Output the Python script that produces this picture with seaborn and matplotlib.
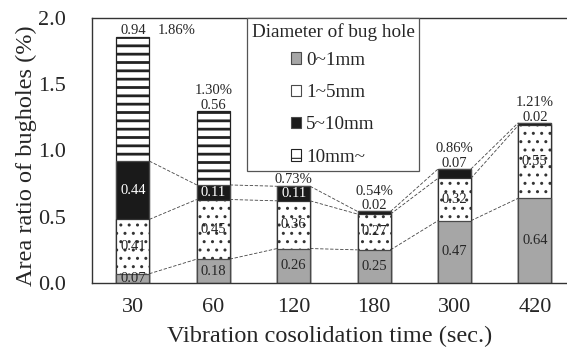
import matplotlib
matplotlib.use("Agg")
import matplotlib.pyplot as plt
import seaborn as sns
import pandas as pd
from matplotlib.patches import Patch

# 讀值 (area ratio %, per hole diameter)
times = ["30", "60", "120", "180", "300", "420"]
d0_1 = [0.07, 0.18, 0.26, 0.25, 0.47, 0.64]
d1_5 = [0.41, 0.45, 0.36, 0.27, 0.32, 0.55]
d5_10 = [0.44, 0.11, 0.11, 0.02, 0.07, 0.02]
d10 = [0.94, 0.56, 0.00, 0.00, 0.00, 0.00]
totals = [1.86, 1.30, 0.73, 0.54, 0.86, 1.21]
legend_labels = ["0~1mm", "1~5mm", "5~10mm", "10mm~"]

sns.set_style("white")
plt.rcParams["font.family"] = ["Liberation Serif", "DejaVu Serif"]
plt.rcParams["hatch.linewidth"] = 0.8

df = pd.DataFrame({"time": times, "a": d0_1, "b": d1_5, "c": d5_10, "d": d10})
df["c1"] = df["a"]
df["c2"] = df["c1"] + df["b"]
df["c3"] = df["c2"] + df["c"]
df["c4"] = df["c3"] + df["d"]

fig = plt.figure(figsize=(5.67, 3.54), dpi=100)
ax = fig.add_axes([0.162, 0.2006, 0.838, 0.7486])

bw = 0.41
edge = "#4a4a4a"
gray = "#a6a6a6"
black = "#1a1a1a"

# stacked bars drawn as overlapping cumulative layers
layers = [("c4", "white", "--", 2.0, "#222222"),
          ("c3", black, "", 0.8, edge),
          ("c2", "white", "..", 1.0, "#333333"),
          ("c1", gray, "", 0.8, edge)]
for col, fc, hatch, hlw, ec in layers:
    n0 = len(ax.patches)
    sns.barplot(data=df, x="time", y=col, order=times, color=fc, saturation=1,
                width=bw, edgecolor=ec, linewidth=0.9, hatch=hatch,
                errorbar=None, ax=ax, zorder=2)
    for p in ax.patches[n0:]:
        if hasattr(p, "set_hatch_linewidth"):
            p.set_hatch_linewidth(hlw)

# dashed connectors between segment tops
for col in ["c1", "c2", "c3"]:
    vals = df[col].values
    for i in range(len(times) - 1):
        ax.plot([i + bw / 2, i + 1 - bw / 2], [vals[i], vals[i + 1]],
                ls=(0, (4, 2)), lw=0.6, color="#444444", zorder=1)

# labels inside segments
fs = 10.5
for i in range(len(times)):
    ax.text(i, d0_1[i] / 2, f"{d0_1[i]:.2f}", ha="center", va="center", fontsize=fs, zorder=5)
    ax.text(i, df["c1"][i] + d1_5[i] / 2, f"{d1_5[i]:.2f}", ha="center", va="center",
            fontsize=fs, zorder=5)
    if d5_10[i] >= 0.1:
        ax.text(i, df["c2"][i] + d5_10[i] / 2, f"{d5_10[i]:.2f}", ha="center", va="center",
                fontsize=fs, color="white", zorder=5)

# labels above bars
for i in range(len(times)):
    top = totals[i]
    above = None
    if d10[i] > 0:
        above = d10[i]
    elif d5_10[i] < 0.1:
        above = d5_10[i]
    if above is not None:
        ax.annotate(f"{above:.2f}", (i, top), xytext=(0, 1.5), textcoords="offset points",
                    ha="center", va="baseline", fontsize=fs)
    if i == 0:
        ax.annotate(f"{top:.2f}%", (i + bw / 2 + 0.11, top), xytext=(0, 1.5),
                    textcoords="offset points", ha="left", va="baseline", fontsize=fs)
    else:
        dy = 12 if above is not None else 2
        ax.annotate(f"{top:.2f}%", (i, top), xytext=(0, dy), textcoords="offset points",
                    ha="center", va="baseline", fontsize=fs)

ax.set_xlim(-0.51, 5.4)
ax.set_ylim(0, 2.0)
ax.set_yticks([0, 0.5, 1.0, 1.5, 2.0])
ax.set_yticklabels([f"{v:.1f}" for v in [0, 0.5, 1.0, 1.5, 2.0]])
ax.tick_params(axis="y", length=0, pad=18.7, labelsize=16)
ax.tick_params(axis="x", length=0, pad=10.8, labelsize=16)

ax.set_xlabel("Vibration cosolidation time (sec.)", fontsize=17.5)
ax.set_ylabel("Area ratio of bugholes (%)", fontsize=17.5)
ax.xaxis.set_label_coords(0.5, -0.162)
ax.yaxis.set_label_coords(-0.116, 0.479)

for s in ["left", "bottom", "top"]:
    ax.spines[s].set_color("#333333")
    ax.spines[s].set_linewidth(1.0)
ax.spines["right"].set_visible(False)
ax.grid(False)

handles = [Patch(facecolor=gray, edgecolor=edge, lw=0.8),
           Patch(facecolor="white", edgecolor=edge, lw=0.8, hatch="."),
           Patch(facecolor=black, edgecolor=edge, lw=0.8),
           Patch(facecolor="white", edgecolor="#222222", lw=0.8, hatch="-")]
leg = ax.legend(handles, legend_labels, title="Diameter of bug hole", loc="upper left",
                bbox_to_anchor=(0.326, 1.0), borderaxespad=0, frameon=True, fancybox=False,
                framealpha=1, edgecolor="#555555", fontsize=13.8, title_fontsize=13.8,
                handlelength=0.52, handleheight=0.52, handletextpad=0.26,
                labelspacing=0.8, borderpad=0.25)
leg.get_frame().set_linewidth(0.9)
leg._legend_box.sep = 8

fig.savefig("out.png", dpi=100)
